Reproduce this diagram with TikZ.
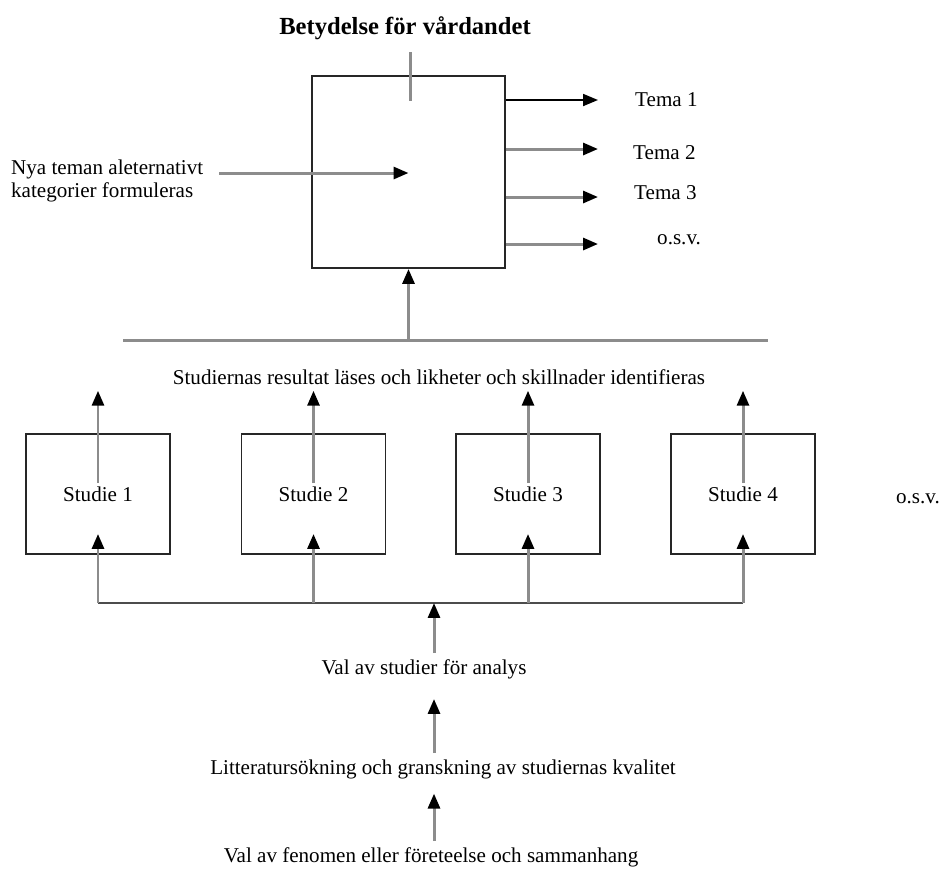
\documentclass[tikz,border=0pt]{standalone}
\usepackage{fontspec}
\setmainfont{Liberation Serif}
\usetikzlibrary{arrows.meta}
\tikzstyle{arrow} = [line width=1.7pt,color=black!45,-{Triangle[black,length=8.5pt,width=6.8pt]}]
\tikzstyle{blackarrow} = [line width=1.1pt,black,-{Triangle[length=8.5pt,width=6.8pt]}]
\tikzstyle{bar} = [line width=1.7pt,color=black!45]
\tikzstyle{block} = [draw=black!85,line width=1.1pt]

\begin{document}
\begin{tikzpicture}[x=0.02cm,y=-0.02cm,font=\fontsize{12}{13.6}\selectfont]
    \useasboundingbox (0,0) rectangle (942,870);

    % upper part
    \node[font=\fontsize{14}{16}\selectfont\bfseries] (title) at (405,28) {Betydelse för vårdandet};
    \node[block,minimum width=3.86cm,minimum height=3.84cm] (main) at (408.5,172) {};
    \node[anchor=west,align=left] (nya) at (5,181) {Nya teman aleternativt\\kategorier formuleras};
    \node[anchor=west] (t1) at (629,100) {Tema 1};
    \node[anchor=west] (t2) at (627,153) {Tema 2};
    \node[anchor=west] (t3) at (628,193) {Tema 3};
    \node[anchor=west] (osv1) at (651,240) {o.s.v.};

    \coordinate (r1) at (598,100);
    \coordinate (r2) at (598,149);
    \coordinate (r3) at (598,197);
    \coordinate (r4) at (598,244);
    \coordinate (in) at (219,173);

    \draw[bar] (main.north) ++(1.5,-23) -- ++(0,49);
    \draw[blackarrow] (main.east |- r1) -- (r1);
    \draw[arrow] (main.east |- r2) -- (r2);
    \draw[arrow] (main.east |- r3) -- (r3);
    \draw[arrow] (main.east |- r4) -- (r4);
    \draw[arrow] (in) -- (in -| main.center);

    % results
    \coordinate (bl) at (123,340);
    \coordinate (br) at (768,340);
    \draw[bar] (bl) -- (br);
    \draw[arrow] (main.south |- bl) -- (main.south);
    \node (res) at (439,377) {Studiernas resultat läses och likheter och skillnader identifieras};

    % studies
    \node[block,minimum width=2.88cm,minimum height=2.4cm] (s1) at (98,494) {Studie 1};
    \node[block,minimum width=2.88cm,minimum height=2.4cm] (s2) at (313.5,494) {Studie 2};
    \node[block,minimum width=2.88cm,minimum height=2.4cm] (s3) at (528,494) {Studie 3};
    \node[block,minimum width=2.88cm,minimum height=2.4cm] (s4) at (743,494) {Studie 4};
    \node (osv2) at (918,499) {o.s.v.};

    \draw[arrow] (s1.center) ++(0,-11) -- (res.south -| s1);
    \draw[arrow] (s2.center) ++(0,-11) -- (res.south -| s2);
    \draw[arrow] (s3.center) ++(0,-11) -- (res.south -| s3);
    \draw[arrow] (s4.center) ++(0,-11) -- (res.south -| s4);

    \coordinate (j) at (434,603);
    \draw[line width=1.1pt,black!70] (s1 |- j) -- (s4 |- j);
    \draw[arrow] (s1 |- j) -- ([yshift=0.42cm]s1.south);
    \draw[arrow] (s2 |- j) -- ([yshift=0.42cm]s2.south);
    \draw[arrow] (s3 |- j) -- ([yshift=0.42cm]s3.south);
    \draw[arrow] (s4 |- j) -- ([yshift=0.42cm]s4.south);

    % selection steps
    \node (sel) at (424,669) {Val av studier för analys};
    \node (lit) at (443,769) {Litteratursökning och granskning av studiernas kvalitet};
    \node (fen) at (431,857) {Val av fenomen eller företeelse och sammanhang};

    \draw[arrow] (sel.north -| j) -- (j);
    \draw[arrow,shorten >=8pt] (lit.north -| j) -- (sel.south -| j);
    \draw[arrow,shorten >=5pt] (fen.north -| j) -- (lit.south -| j);
\end{tikzpicture}
\end{document}
